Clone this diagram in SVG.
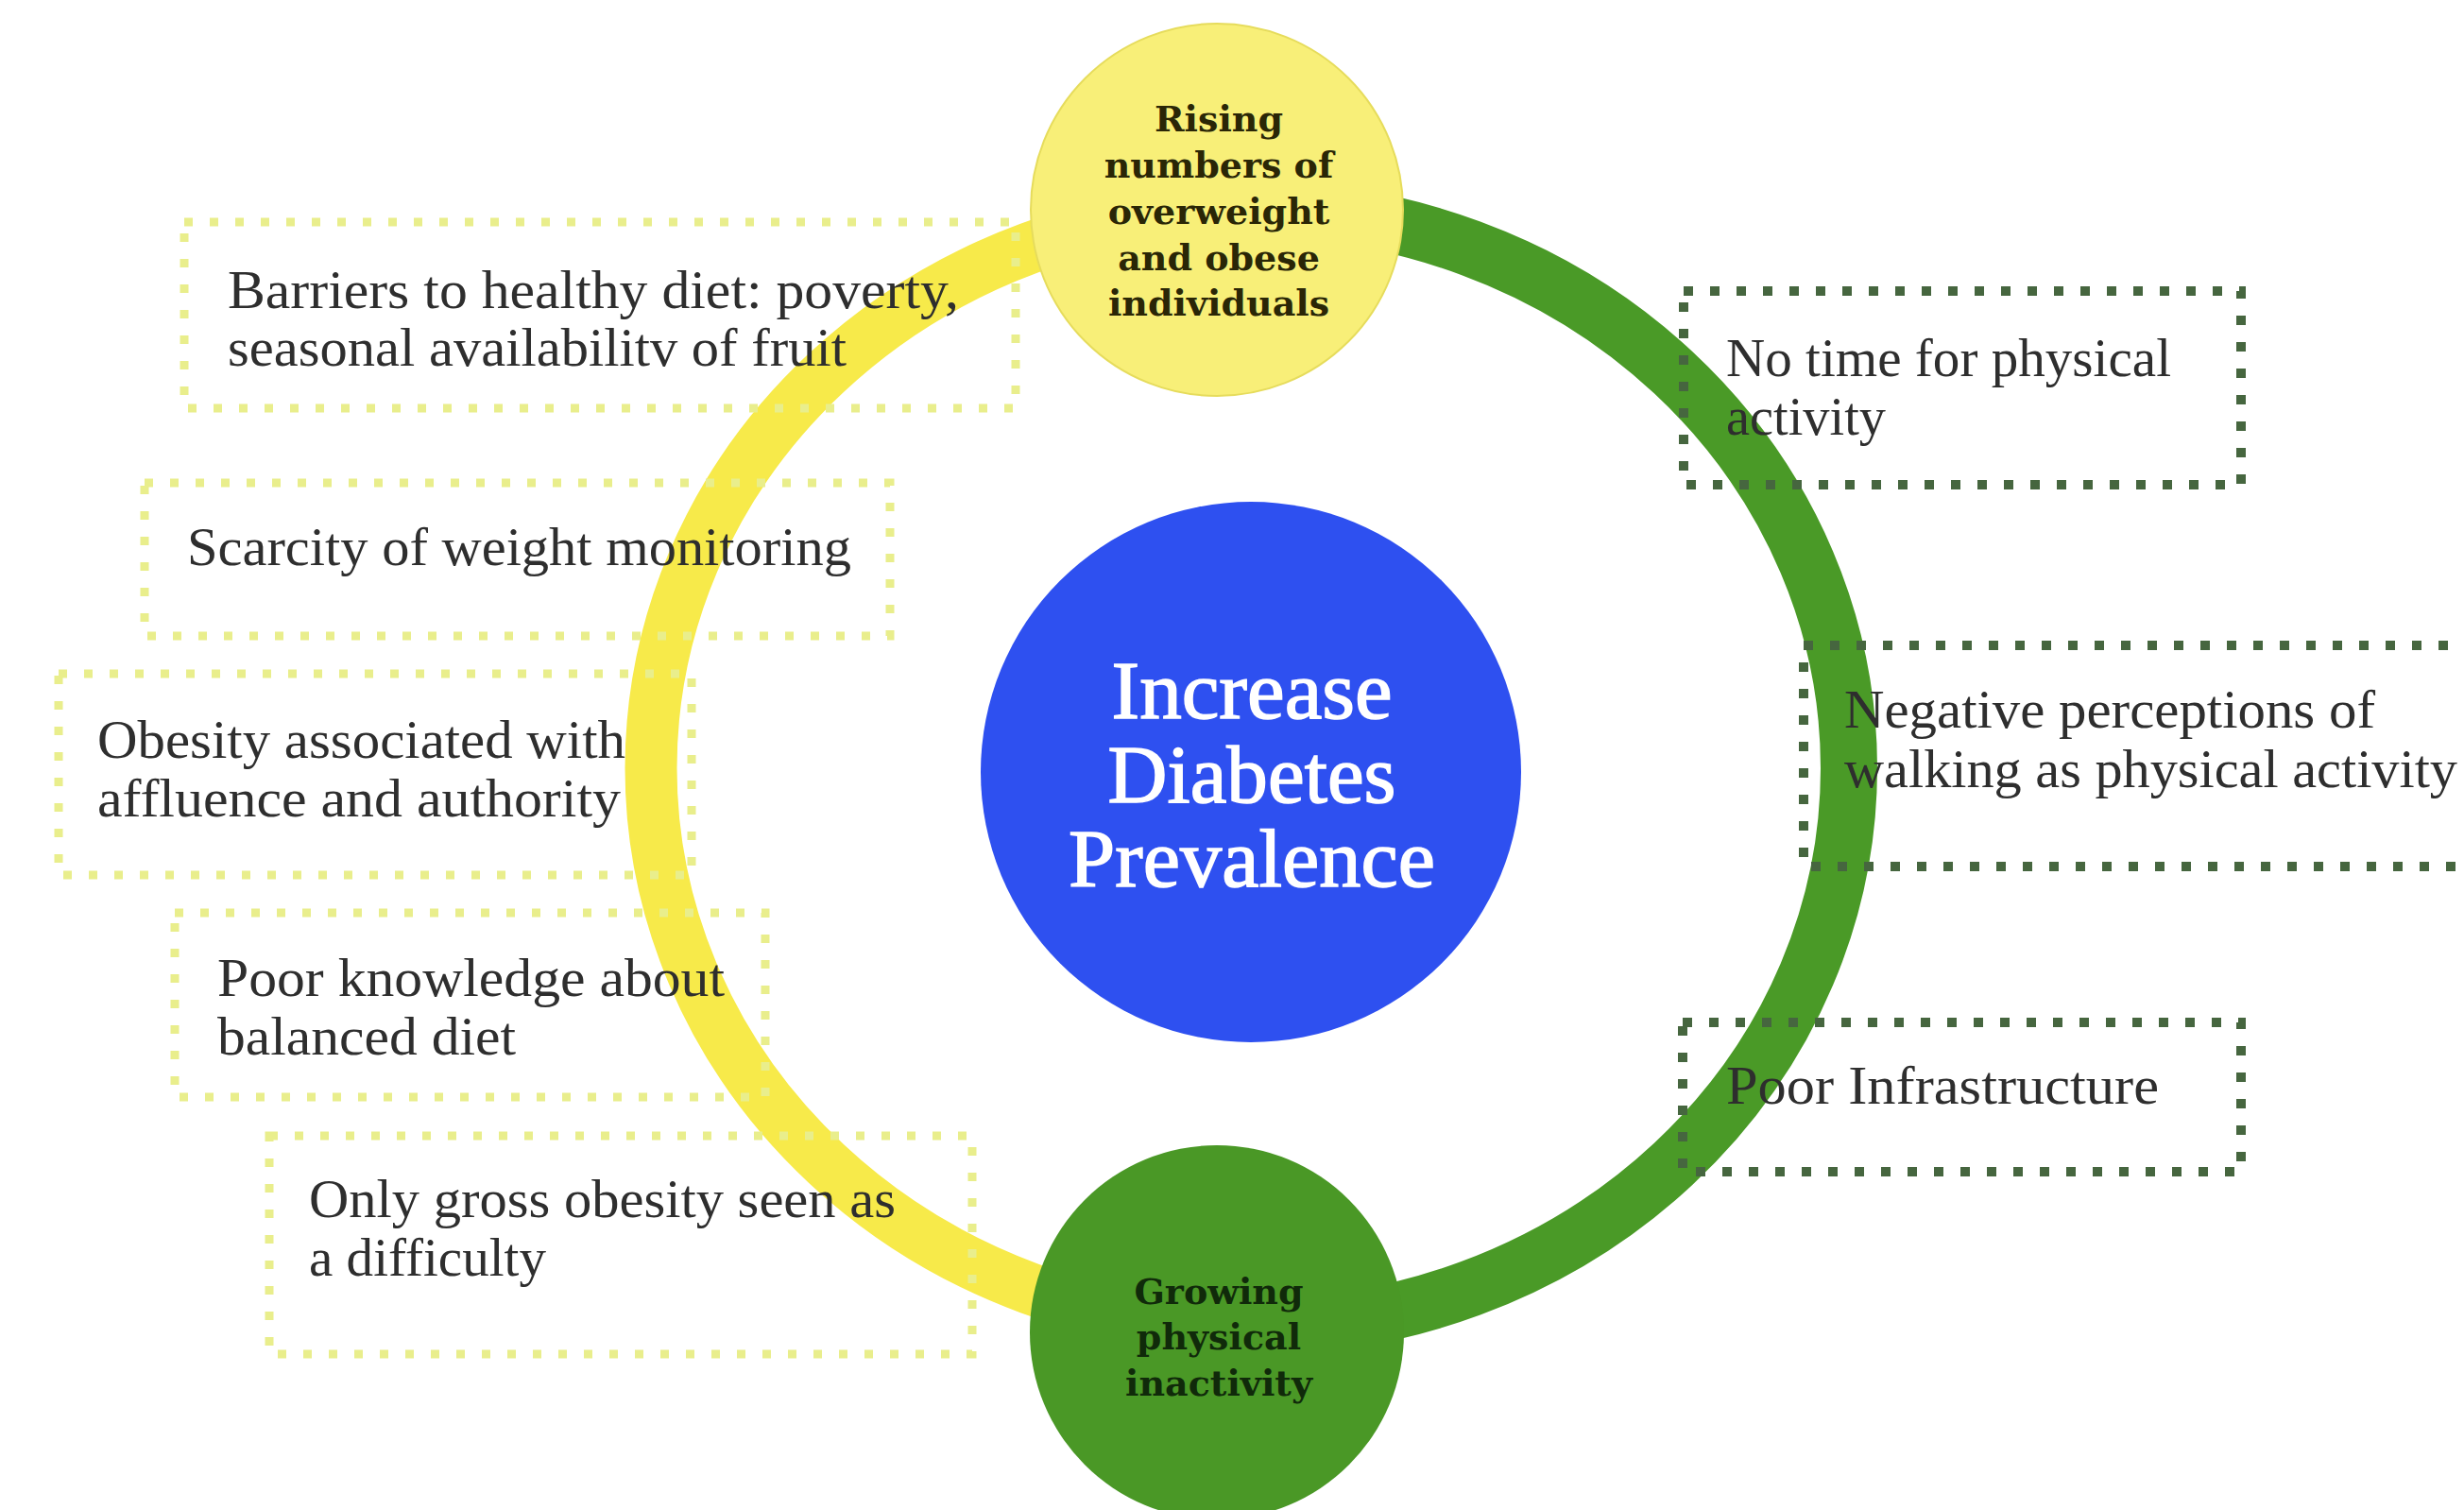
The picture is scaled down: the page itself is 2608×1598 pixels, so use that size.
<svg xmlns="http://www.w3.org/2000/svg" width="2608" height="1598" viewBox="0 0 2608 1598">
<style>
.bg{fill:#ffffff}
.ybox{fill:none;stroke:#e9ee8c;stroke-width:9;stroke-dasharray:9 18}
.gbox{fill:none;stroke:#46663f;stroke-width:10;stroke-dasharray:10 18}
.t{font-family:"Liberation Serif","Times New Roman",serif;font-size:56px;fill:#2e2e2e}
.ct{font-family:"DejaVu Serif",serif;font-weight:bold;font-size:38px;text-anchor:middle}
.big{font-family:"Liberation Serif","Times New Roman",serif;font-size:87px;fill:#ffffff;stroke:#ffffff;stroke-width:1.5;text-anchor:middle}
</style>
<rect class="bg" x="0" y="0" width="2608" height="1598"/>
<g id="connectors" fill="none">
<path d="M1323 221 A634 592 0 0 0 1323 1405" stroke="#f7ea4a" stroke-width="55"/>
<path d="M1323 221 A634 592 0 0 1 1323 1405" stroke="#4a9a27" stroke-width="60"/>
</g>
<g id="box-barriers">
<rect class="ybox" x="195" y="235" width="880" height="197"/>
<text class="t" x="241" y="326" textLength="774" lengthAdjust="spacingAndGlyphs">Barriers to healthy diet: poverty,</text>
<text class="t" x="241" y="387" textLength="655" lengthAdjust="spacingAndGlyphs">seasonal availabilitv of fruit</text>
</g>
<g id="box-scarcity">
<rect class="ybox" x="153" y="511" width="789" height="162"/>
<text class="t" x="198" y="598" textLength="703" lengthAdjust="spacingAndGlyphs">Scarcity of weight monitoring</text>
</g>
<g id="box-affluence">
<rect class="ybox" x="62" y="713" width="670" height="213"/>
<text class="t" x="103" y="802" textLength="559" lengthAdjust="spacingAndGlyphs">Obesity associated with</text>
<text class="t" x="103" y="864" textLength="554" lengthAdjust="spacingAndGlyphs">affluence and authority</text>
</g>
<g id="box-knowledge">
<rect class="ybox" x="185" y="966" width="625" height="195"/>
<text class="t" x="230" y="1054" textLength="537" lengthAdjust="spacingAndGlyphs">Poor knowledge about</text>
<text class="t" x="230" y="1116" textLength="316" lengthAdjust="spacingAndGlyphs">balanced diet</text>
</g>
<g id="box-gross">
<rect class="ybox" x="285" y="1202" width="744" height="231"/>
<text class="t" x="327" y="1288" textLength="621" lengthAdjust="spacingAndGlyphs">Only gross obesity seen as</text>
<text class="t" x="327" y="1350" textLength="251" lengthAdjust="spacingAndGlyphs">a difficulty</text>
</g>
<g id="box-notime">
<rect class="gbox" x="1782" y="308" width="590" height="205"/>
<text class="t" x="1827" y="398" textLength="471" lengthAdjust="spacingAndGlyphs">No time for physical</text>
<text class="t" x="1827" y="460" textLength="169" lengthAdjust="spacingAndGlyphs">activity</text>
</g>
<g id="box-walking">
<rect class="gbox" x="1909" y="683" width="760" height="234"/>
<text class="t" x="1952" y="770" textLength="562" lengthAdjust="spacingAndGlyphs">Negative perceptions of</text>
<text class="t" x="1952" y="833" textLength="649" lengthAdjust="spacingAndGlyphs">walking as physical activity</text>
</g>
<g id="box-infra">
<rect class="gbox" x="1781" y="1082" width="591" height="158"/>
<text class="t" x="1827" y="1168" textLength="458" lengthAdjust="spacingAndGlyphs">Poor Infrastructure</text>
</g>
<g id="node-overweight">
<circle cx="1288" cy="222" r="197" fill="#f8ef78" stroke="#e6dc5c" stroke-width="2"/>
<text class="ct" fill="#2a2606" x="1290" y="139">Rising</text>
<text class="ct" fill="#2a2606" x="1290" y="188">numbers of</text>
<text class="ct" fill="#2a2606" x="1290" y="237">overweight</text>
<text class="ct" fill="#2a2606" x="1290" y="286">and obese</text>
<text class="ct" fill="#2a2606" x="1290" y="334">individuals</text>
</g>
<g id="node-inactivity">
<circle cx="1288" cy="1410" r="198" fill="#4a9826"/>
<text class="ct" fill="#102a0a" x="1290" y="1380">Growing</text>
<text class="ct" fill="#102a0a" x="1290" y="1428">physical</text>
<text class="ct" fill="#102a0a" x="1290" y="1477">inactivity</text>
</g>
<g id="node-diabetes">
<circle cx="1324" cy="817" r="286" fill="#2e50f0"/>
<text class="big" x="1325" y="760" textLength="297" lengthAdjust="spacingAndGlyphs">Increase</text>
<text class="big" x="1325" y="849" textLength="305" lengthAdjust="spacingAndGlyphs">Diabetes</text>
<text class="big" x="1325" y="938" textLength="388" lengthAdjust="spacingAndGlyphs">Prevalence</text>
</g>
</svg>
